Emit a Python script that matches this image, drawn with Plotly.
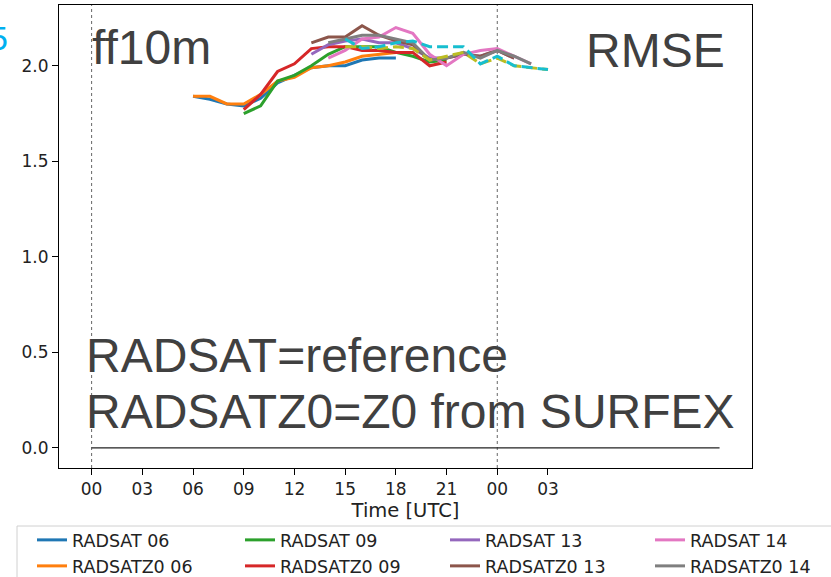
import plotly.graph_objects as go

# ---------------- data ----------------
H06 = list(range(6, 19))
H09 = list(range(9, 22))
H13 = list(range(13, 26))
H14 = list(range(14, 27))
H15 = list(range(15, 28))

RADSAT_06 = [1.84, 1.825, 1.80, 1.79, 1.83, 1.91, 1.95, 1.99, 2.00, 2.00, 2.03, 2.04, 2.04]
RADSATZ0_06 = [1.84, 1.84, 1.80, 1.80, 1.85, 1.92, 1.94, 1.99, 2.00, 2.02, 2.05, 2.06, 2.07]
RADSAT_09 = [1.75, 1.79, 1.92, 1.95, 2.00, 2.06, 2.10, 2.10, 2.10, 2.07, 2.05, 2.02, 2.03]
RADSATZ0_09 = [1.77, 1.85, 1.97, 2.01, 2.09, 2.10, 2.10, 2.08, 2.08, 2.07, 2.07, 2.00, 2.02]
RADSAT_13 = [2.06, 2.11, 2.13, 2.14, 2.12, 2.12, 2.09, 2.04, 2.04, 2.06, 2.05, 2.08, 2.04]
RADSATZ0_13 = [2.12, 2.15, 2.15, 2.21, 2.16, 2.13, 2.11, 2.03, 2.04, 2.06, 2.05, 2.08, 2.04]
RADSAT_14 = [2.04, 2.08, 2.14, 2.15, 2.20, 2.17, 2.06, 2.00, 2.06, 2.08, 2.09, 2.05, 2.01]
RADSATZ0_14 = [2.12, 2.14, 2.16, 2.16, 2.14, 2.12, 2.03, 2.04, 2.07, 2.04, 2.08, 2.05, 2.01]
RADSAT_15 = [2.10, 2.10, 2.09, 2.10, 2.09, 2.03, 2.05, 2.07, 2.01, 2.04, 2.00, 1.99, 1.98]
RADSATZ0_15 = [2.14, 2.09, 2.10, 2.12, 2.13, 2.10, 2.10, 2.10, 2.01, 2.05, 2.00, 1.99, 1.98]

ZERO_X = [0, 37.15]
ZERO_Y = [0, 0]
DAY_LINES = [0, 24]

X_TICKS = [0, 3, 6, 9, 12, 15, 18, 21, 24, 27]
X_LABELS = ["00", "03", "06", "09", "12", "15", "18", "21", "00", "03"]
Y_TICKS = [0.0, 0.5, 1.0, 1.5, 2.0]

# ---------------- layout geometry (pixels) ----------------
W, H = 831, 577
L, R, T, B = 59, 752, 5, 468
PW, PH = R - L, B - T


def px(x):
    return (x - L) / PW


def py(y):
    return (B - y) / PH


series = [
    ("RADSAT 06", H06, RADSAT_06, "#1f77b4", "solid", True),
    ("RADSATZ0 06", H06, RADSATZ0_06, "#ff7f0e", "solid", True),
    ("RADSAT 09", H09, RADSAT_09, "#2ca02c", "solid", True),
    ("RADSATZ0 09", H09, RADSATZ0_09, "#d62728", "solid", True),
    ("RADSAT 13", H13, RADSAT_13, "#9467bd", "solid", True),
    ("RADSATZ0 13", H13, RADSATZ0_13, "#8c564b", "solid", True),
    ("RADSAT 14", H14, RADSAT_14, "#e377c2", "solid", True),
    ("RADSATZ0 14", H14, RADSATZ0_14, "#7f7f7f", "solid", True),
    ("RADSAT 15", H15, RADSAT_15, "#bcbd22", "11px,5px", False),
    ("RADSATZ0 15", H15, RADSATZ0_15, "#17becf", "11px,5px", False),
]

# legend slots: column text x, row centre y
COL_X = [72, 280, 485, 690]
ROW_Y = [540, 566]

fig = go.Figure()

fig.add_trace(go.Scatter(x=ZERO_X, y=ZERO_Y, mode="lines",
                         line=dict(color="#222222", width=1.2), showlegend=False,
                         hoverinfo="skip"))

legend_layouts = {}
for i, (name, xs, ys, col, dash, inleg) in enumerate(series):
    kw = {}
    if inleg:
        lname = "legend" if i == 0 else f"legend{i + 1}"
        kw["legend"] = lname
        c, r = i // 2, i % 2
        legend_layouts[lname] = dict(
            x=px(COL_X[c] - 40), y=py(ROW_Y[r]), xanchor="left", yanchor="middle",
            bgcolor="rgba(0,0,0,0)", borderwidth=0,
            font=dict(family="DejaVu Sans", size=17.5, color="#222222"),
        )
    fig.add_trace(go.Scatter(x=xs, y=ys, mode="lines", name=name,
                             line=dict(color=col, width=3, dash=dash),
                             showlegend=inleg, **kw))

shapes = []
for d in DAY_LINES:
    shapes.append(dict(type="line", xref="x", yref="paper", x0=d, x1=d, y0=0, y1=1,
                       line=dict(color="#666666", width=1, dash="dot"), layer="below"))
# legend frame (extends past the right edge, as in the reference)
shapes.append(dict(type="rect", xref="paper", yref="paper",
                   x0=px(17), x1=px(860), y0=py(526), y1=py(600),
                   line=dict(color="#d0d0d0", width=1), fillcolor="rgba(0,0,0,0)"))

big = dict(family="Liberation Sans, Arial", size=48, color="#404040")
annotations = [
    dict(text="ff10m", x=px(90), y=py(48), xanchor="left", yanchor="middle", font=big),
    dict(text="RMSE", x=px(727), y=py(50), xanchor="right", yanchor="middle", font=big),
    dict(text="RADSAT=reference", x=px(84), y=py(355), xanchor="left", yanchor="middle", font=big),
    dict(text="RADSATZ0=Z0 from SURFEX", x=px(84), y=py(411), xanchor="left", yanchor="middle", font=big),
    dict(text="5", x=px(10), y=py(38), xanchor="right", yanchor="middle",
         font=dict(family="Liberation Sans, Arial", size=34, color="#00b0f0")),
]
for a in annotations:
    a.update(xref="paper", yref="paper", showarrow=False)

fig.update_layout(
    width=W, height=H,
    margin=dict(l=L, r=W - R, t=T, b=H - B, autoexpand=False),
    paper_bgcolor="white", plot_bgcolor="white",
    font=dict(family="DejaVu Sans", size=17, color="#222222"),
    shapes=shapes, annotations=annotations,
    **legend_layouts,
)
fig.update_xaxes(range=[-1.93, 39.07], tickvals=X_TICKS, ticktext=X_LABELS,
                 showgrid=False, zeroline=False, showline=True, linecolor="black",
                 linewidth=1, mirror=True, ticks="outside", ticklen=6, tickcolor="black",
                 tickfont=dict(family="DejaVu Sans", size=17, color="#222222"),
                 title=dict(text="Time [UTC]", standoff=4,
                            font=dict(family="DejaVu Sans", size=19.5, color="#222222")))
fig.update_yaxes(range=[-0.105, 2.318], tickvals=Y_TICKS, tickformat=".1f",
                 showgrid=False, zeroline=False, showline=True, linecolor="black",
                 linewidth=1, mirror=True, ticks="outside", ticklen=6, tickcolor="black",
                 tickfont=dict(family="DejaVu Sans", size=17, color="#222222"))

fig.write_html("out.html")
